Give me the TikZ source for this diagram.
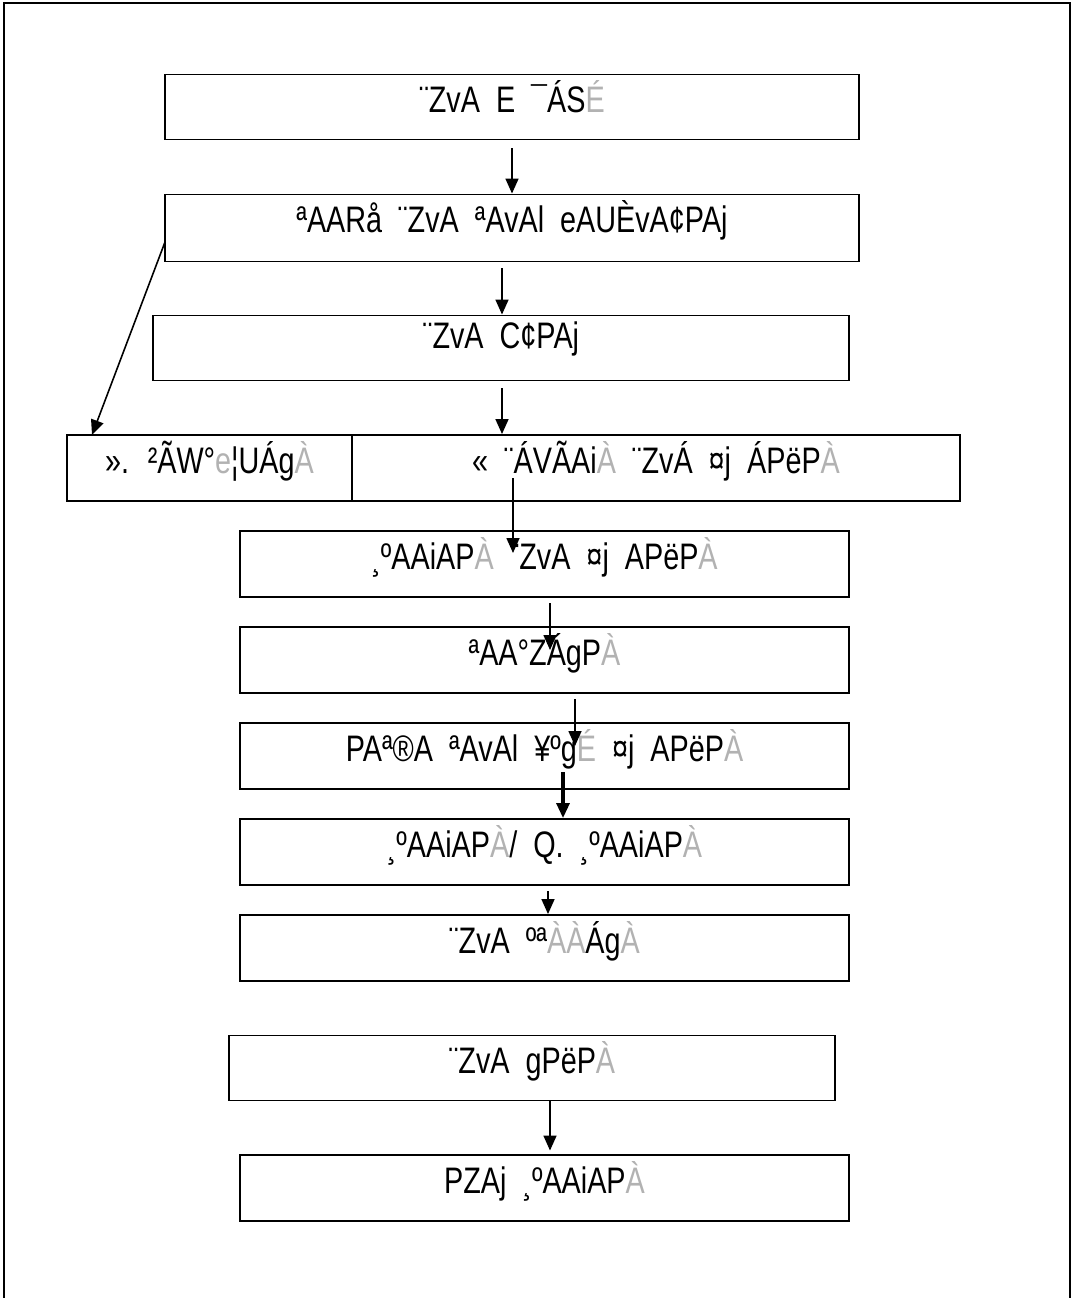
\documentclass[tikz,border=0pt]{standalone}
\usepackage{fontspec}
\setmainfont{Liberation Sans}[FakeStretch=0.78,WordSpace=2]
\usetikzlibrary{arrows.meta,positioning}
\newcommand{\gc}[1]{\textcolor{black!30}{#1}}
\begin{document}
\begin{tikzpicture}[x=0.02cm,y=-0.02cm,
		box/.style={draw,line width=1.1pt,inner sep=0pt},
		txt/.style={inner sep=0pt,anchor=north,font=\fontsize{21}{24}\selectfont},
		arr/.style={line width=0.9pt,-{Triangle[length=0.3cm,width=0.26cm]}}]
	\useasboundingbox (0,0) rectangle (1073,1298);
	\draw[line width=0.9pt] (4,1310)--(4,3)--(1070,3)--(1070,1310);
	% boxes
	\node[box,minimum width=13.9cm,minimum height=1.3cm] (b1) at (512,107) {};
	\node[box,minimum width=13.9cm,minimum height=1.34cm] (b2) at (512,228) {};
	\node[box,minimum width=13.92cm,minimum height=1.3cm] (b3) at (501,348) {};
	\node[box,minimum width=5.7cm,minimum height=1.32cm] (b4l) at (209.5,468) {};
	\node[box,minimum width=12.16cm,minimum height=1.32cm] (b4r) at (656,468) {};
	\foreach \n/\y in {5/564,6/660,7/756,8/852,9/948,11/1188}
		\node[box,minimum width=12.18cm,minimum height=1.32cm] (b\n) at (544.5,\y) {};
	\node[box,minimum width=12.12cm,minimum height=1.3cm] (b10) at (532,1068) {};
	% texts
	\node[txt,below=0.14cm of b1.north] (l1) {¨ZvA E ¯ÁS\gc{É}};
	\node[txt,below=0.14cm of b2.north] (l2) {ªAARå ¨ZvA ªAvAl eAUÈvA¢PAj};
	\node[txt,below=0.14cm of b3.north] (l3) {¨ZvA C¢PAj};
	\node[txt,below=0.14cm of b4l.north] (l4l) {». ²ÃW°\gc{e}¦UÁg\gc{À}};
	\node[txt,below=0.14cm of b4r.north] (l4r) {« ¨ÁVÃAi\gc{À} ¨ZvÁ ¤j ÁPëP\gc{À}};
	\node[txt,below=0.14cm of b5.north] (l5) {¸ºAAiAP\gc{À} ¨ZvA ¤j APëP\gc{À}};
	\node[txt,below=0.14cm of b6.north] (l6) {ªAA°ZÁgP\gc{À}};
	\node[txt,below=0.14cm of b7.north] (l7) {PAª®A ªAvAl ¥ºg\gc{É} ¤j APëP\gc{À}};
	\node[txt,below=0.14cm of b8.north] (l8) {¸ºAAiAP\gc{À}/ Q. ¸ºAAiAP\gc{À}};
	\node[txt,below=0.14cm of b9.north] (l9) {¨ZvA ºª\gc{ÀÀ}Ág\gc{À}};
	\node[txt,below=0.14cm of b10.north] (l10) {¨ZvA gPëP\gc{À}};
	\node[txt,below=0.14cm of b11.north] (l11) {PZAj ¸ºAAiAP\gc{À}};
	% arrows
	\coordinate (s1) at (512,148);
	\coordinate (s2) at (502,268);
	\coordinate (s3) at (502,388);
	\coordinate (s4) at (165,242);
	\coordinate (e4) at (92,435);
	\coordinate (s5) at (513,478);
	\coordinate (e5) at (513,553);
	\coordinate (s6) at (550,603);
	\coordinate (e6) at (550,650);
	\coordinate (s7) at (575,699);
	\coordinate (e7) at (575,746);
	\coordinate (s8) at (563,772);
	\coordinate (s9) at (548,891);
	\coordinate (s10) at (550,1101);
	\draw[arr] (s1) -- (s1 |- b2.north);
	\draw[arr] (s2) -- (s2 |- b3.north);
	\draw[arr] (s3) -- (s3 |- b4r.north);
	\draw[arr] (s4) -- (e4);
	\draw[arr] (s5) -- (e5);
	\draw[arr] (s6) -- (e6);
	\draw[arr] (s7) -- (e7);
	\draw[arr,line width=1.8pt] (s8) -- (s8 |- b8.north);
	\draw[arr] (s9) -- (s9 |- b9.north);
	\draw[arr] (s10) -- ([yshift=2pt]s10 |- b11.north);
\end{tikzpicture}
\end{document}
